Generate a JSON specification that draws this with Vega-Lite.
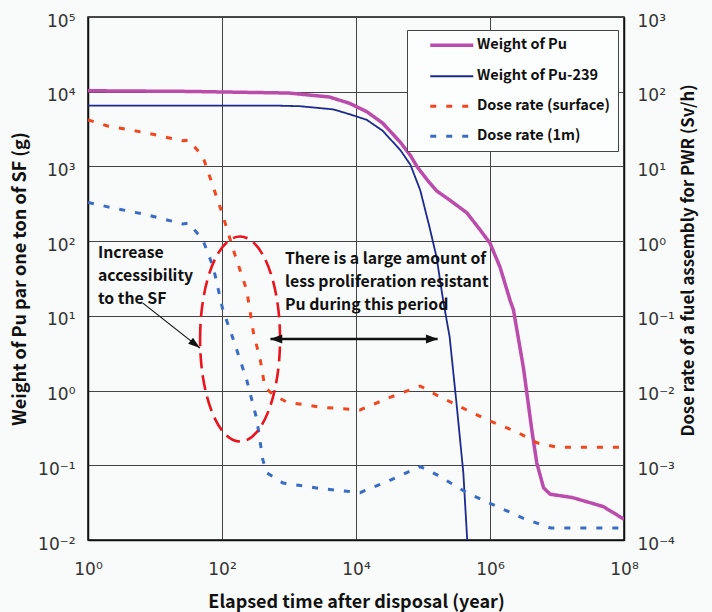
{
  "$schema": "https://vega.github.io/schema/vega-lite/v6.json",
  "width": 536,
  "height": 523,
  "autosize": {"type": "none"},
  "padding": {"left": 88, "top": 17, "right": 88, "bottom": 72},
  "background": "#f9fafa",
  "config": {
    "view": {"stroke": "#111", "strokeWidth": 1.5},
    "font": "Noto Sans CJK JP",
    "axis": {
      "domainColor": "#111", "domainWidth": 1.5,
      "gridColor": "#444", "gridWidth": 1, "gridOpacity": 1,
      "ticks": false, "labelFlush": false, "labelOverlap": false,
      "labelFont": "DejaVu Sans", "labelFontSize": 17, "labelColor": "#333",
      "titleFont": "Noto Sans CJK JP", "titleFontWeight": "bold", "titleFontSize": 18, "titleColor": "#111"
    },
    "legend": {
      "orient": "none", "legendX": 319, "legendY": 13,
      "symbolType": "M-4.3,0H4.3", "symbolSize": 100,
      "labelFont": "Noto Sans CJK JP", "labelFontWeight": "bold", "labelFontSize": 14.5, "labelColor": "#111",
      "strokeColor": "#444", "fillColor": "#fcfdfd",
      "padding": 8, "rowPadding": 15, "symbolOffset": 29.5, "labelOffset": 18
    }
  },
  "datasets": {
    "weight": [
      {"series": "Weight of Pu", "t": 1, "v": 10300},
      {"series": "Weight of Pu", "t": 30, "v": 10100},
      {"series": "Weight of Pu", "t": 1000, "v": 9600},
      {"series": "Weight of Pu", "t": 4000, "v": 8500},
      {"series": "Weight of Pu", "t": 8000, "v": 7000},
      {"series": "Weight of Pu", "t": 14500, "v": 5400},
      {"series": "Weight of Pu", "t": 25000, "v": 3800},
      {"series": "Weight of Pu", "t": 46000, "v": 2100},
      {"series": "Weight of Pu", "t": 65000, "v": 1400},
      {"series": "Weight of Pu", "t": 81000, "v": 1000},
      {"series": "Weight of Pu", "t": 115000, "v": 665},
      {"series": "Weight of Pu", "t": 160000, "v": 470},
      {"series": "Weight of Pu", "t": 250000, "v": 355},
      {"series": "Weight of Pu", "t": 450000, "v": 240},
      {"series": "Weight of Pu", "t": 710000, "v": 142},
      {"series": "Weight of Pu", "t": 1000000, "v": 94},
      {"series": "Weight of Pu", "t": 1410000, "v": 45},
      {"series": "Weight of Pu", "t": 2000000, "v": 16},
      {"series": "Weight of Pu", "t": 2240000, "v": 12},
      {"series": "Weight of Pu", "t": 3160000, "v": 2.0},
      {"series": "Weight of Pu", "t": 4270000, "v": 0.27},
      {"series": "Weight of Pu", "t": 5000000, "v": 0.107},
      {"series": "Weight of Pu", "t": 6300000, "v": 0.05},
      {"series": "Weight of Pu", "t": 7900000, "v": 0.041},
      {"series": "Weight of Pu", "t": 17000000, "v": 0.037},
      {"series": "Weight of Pu", "t": 49000000, "v": 0.028},
      {"series": "Weight of Pu", "t": 100000000, "v": 0.019},
      {"series": "Weight of Pu-239", "t": 1, "v": 6500},
      {"series": "Weight of Pu-239", "t": 700, "v": 6500},
      {"series": "Weight of Pu-239", "t": 1450, "v": 6400},
      {"series": "Weight of Pu-239", "t": 4600, "v": 5800},
      {"series": "Weight of Pu-239", "t": 8000, "v": 5000},
      {"series": "Weight of Pu-239", "t": 14500, "v": 4200},
      {"series": "Weight of Pu-239", "t": 25000, "v": 3000},
      {"series": "Weight of Pu-239", "t": 46000, "v": 1650},
      {"series": "Weight of Pu-239", "t": 65000, "v": 1050},
      {"series": "Weight of Pu-239", "t": 91000, "v": 480},
      {"series": "Weight of Pu-239", "t": 126000, "v": 150},
      {"series": "Weight of Pu-239", "t": 160000, "v": 60},
      {"series": "Weight of Pu-239", "t": 200000, "v": 16},
      {"series": "Weight of Pu-239", "t": 250000, "v": 5.2},
      {"series": "Weight of Pu-239", "t": 316000, "v": 0.68},
      {"series": "Weight of Pu-239", "t": 400000, "v": 0.079},
      {"series": "Weight of Pu-239", "t": 457000, "v": 0.01}
    ],
    "dose": [
      {"series": "Dose rate (surface)", "t": 1, "v": 42},
      {"series": "Dose rate (surface)", "t": 1.9, "v": 35},
      {"series": "Dose rate (surface)", "t": 7.6, "v": 28},
      {"series": "Dose rate (surface)", "t": 26, "v": 22},
      {"series": "Dose rate (surface)", "t": 32, "v": 22.5},
      {"series": "Dose rate (surface)", "t": 52, "v": 13.5},
      {"series": "Dose rate (surface)", "t": 74, "v": 5.3},
      {"series": "Dose rate (surface)", "t": 100, "v": 2.4},
      {"series": "Dose rate (surface)", "t": 148, "v": 0.76},
      {"series": "Dose rate (surface)", "t": 234, "v": 0.22},
      {"series": "Dose rate (surface)", "t": 295, "v": 0.059},
      {"series": "Dose rate (surface)", "t": 372, "v": 0.026},
      {"series": "Dose rate (surface)", "t": 437, "v": 0.011},
      {"series": "Dose rate (surface)", "t": 589, "v": 0.0087},
      {"series": "Dose rate (surface)", "t": 933, "v": 0.007},
      {"series": "Dose rate (surface)", "t": 2900, "v": 0.006},
      {"series": "Dose rate (surface)", "t": 11500, "v": 0.0055},
      {"series": "Dose rate (surface)", "t": 32000, "v": 0.0081},
      {"series": "Dose rate (surface)", "t": 91000, "v": 0.0115},
      {"series": "Dose rate (surface)", "t": 160000, "v": 0.0087},
      {"series": "Dose rate (surface)", "t": 450000, "v": 0.0055},
      {"series": "Dose rate (surface)", "t": 1000000, "v": 0.0039},
      {"series": "Dose rate (surface)", "t": 2500000, "v": 0.0028},
      {"series": "Dose rate (surface)", "t": 5000000, "v": 0.002},
      {"series": "Dose rate (surface)", "t": 10000000, "v": 0.00175},
      {"series": "Dose rate (surface)", "t": 100000000, "v": 0.00175},
      {"series": "Dose rate (1m)", "t": 1, "v": 3.3},
      {"series": "Dose rate (1m)", "t": 1.9, "v": 2.9},
      {"series": "Dose rate (1m)", "t": 7.6, "v": 2.25},
      {"series": "Dose rate (1m)", "t": 26, "v": 1.7},
      {"series": "Dose rate (1m)", "t": 32, "v": 1.75},
      {"series": "Dose rate (1m)", "t": 52, "v": 1.03},
      {"series": "Dose rate (1m)", "t": 74, "v": 0.45},
      {"series": "Dose rate (1m)", "t": 103, "v": 0.12},
      {"series": "Dose rate (1m)", "t": 148, "v": 0.048},
      {"series": "Dose rate (1m)", "t": 234, "v": 0.0138},
      {"series": "Dose rate (1m)", "t": 331, "v": 0.0041},
      {"series": "Dose rate (1m)", "t": 407, "v": 0.00118},
      {"series": "Dose rate (1m)", "t": 468, "v": 0.00079},
      {"series": "Dose rate (1m)", "t": 813, "v": 0.00058},
      {"series": "Dose rate (1m)", "t": 2900, "v": 0.00049},
      {"series": "Dose rate (1m)", "t": 11500, "v": 0.00043},
      {"series": "Dose rate (1m)", "t": 32000, "v": 0.00063},
      {"series": "Dose rate (1m)", "t": 91000, "v": 0.00096},
      {"series": "Dose rate (1m)", "t": 160000, "v": 0.00075},
      {"series": "Dose rate (1m)", "t": 450000, "v": 0.00043},
      {"series": "Dose rate (1m)", "t": 1000000, "v": 0.00031},
      {"series": "Dose rate (1m)", "t": 3160000, "v": 0.000195},
      {"series": "Dose rate (1m)", "t": 8000000, "v": 0.000145},
      {"series": "Dose rate (1m)", "t": 100000000, "v": 0.000145}
    ]
  },
  "layer": [
    {
      "data": {"name": "weight"},
      "mark": {"type": "line", "clip": true},
      "encoding": {
        "x": {"field": "t", "type": "quantitative",
          "scale": {"type": "log", "domain": [1, 100000000], "nice": false},
          "axis": {"values": [1, 100, 10000, 1000000, 100000000], "grid": true,
            "labelPadding": 21, "titlePadding": 16,
            "labelExpr": "'10' + (datum.value < 1 ? '⁻' : '') + substring('⁰¹²³⁴⁵⁶⁷⁸⁹', abs(round(log(datum.value)/LN10)), abs(round(log(datum.value)/LN10)) + 1)"},
          "title": "Elapsed time after disposal (year)"},
        "y": {"field": "v", "type": "quantitative",
          "scale": {"type": "log", "domain": [0.01, 100000], "nice": false},
          "axis": {"orient": "left", "values": [0.01, 0.1, 1, 10, 100, 1000, 10000, 100000], "grid": true,
            "labelPadding": 13, "titlePadding": 8, "labelOffset": 4,
            "labelExpr": "'10' + (datum.value < 1 ? '⁻' : '') + substring('⁰¹²³⁴⁵⁶⁷⁸⁹', abs(round(log(datum.value)/LN10)), abs(round(log(datum.value)/LN10)) + 1)"},
          "title": "Weight of Pu par one ton of SF (g)"},
        "color": {"field": "series", "type": "nominal",
          "scale": {"domain": ["Weight of Pu", "Weight of Pu-239", "Dose rate (surface)", "Dose rate (1m)"],
            "range": ["#bb4cab", "#1c2a8e", "#f2461f", "#3a6cc4"]}, "title": null},
        "strokeDash": {"field": "series", "type": "nominal",
          "scale": {"domain": ["Weight of Pu", "Weight of Pu-239", "Dose rate (surface)", "Dose rate (1m)"],
            "range": [[1, 0], [1, 0], [6, 10], [6, 10]]}, "title": null},
        "strokeWidth": {"field": "series", "type": "nominal",
          "scale": {"type": "ordinal", "domain": ["Weight of Pu", "Weight of Pu-239", "Dose rate (surface)", "Dose rate (1m)"],
            "range": [3.5, 1.8, 3, 3]}, "title": null}
      }
    },
    {
      "data": {"name": "dose"},
      "mark": {"type": "line", "clip": true},
      "encoding": {
        "x": {"field": "t", "type": "quantitative", "scale": {"type": "log", "domain": [1, 100000000], "nice": false}},
        "y": {"field": "v", "type": "quantitative",
          "scale": {"type": "log", "domain": [0.0001, 1000], "nice": false},
          "axis": {"orient": "right", "values": [0.0001, 0.001, 0.01, 0.1, 1, 10, 100, 1000], "grid": false,
            "labelPadding": 13, "titlePadding": 6, "titleAngle": 270, "titleBaseline": "top", "labelOffset": 4,
            "titleFontSize": 16.8, "titleY": 243,
            "labelExpr": "'10' + (datum.value < 1 ? '⁻' : '') + substring('⁰¹²³⁴⁵⁶⁷⁸⁹', abs(round(log(datum.value)/LN10)), abs(round(log(datum.value)/LN10)) + 1)"},
          "title": "Dose rate of a fuel assembly for PWR (Sv/h)"},
        "color": {"field": "series", "type": "nominal",
          "scale": {"domain": ["Weight of Pu", "Weight of Pu-239", "Dose rate (surface)", "Dose rate (1m)"],
            "range": ["#bb4cab", "#1c2a8e", "#f2461f", "#3a6cc4"]}, "title": null},
        "strokeDash": {"field": "series", "type": "nominal",
          "scale": {"domain": ["Weight of Pu", "Weight of Pu-239", "Dose rate (surface)", "Dose rate (1m)"],
            "range": [[1, 0], [1, 0], [6, 10], [6, 10]]}, "title": null},
        "strokeWidth": {"field": "series", "type": "nominal",
          "scale": {"type": "ordinal", "domain": ["Weight of Pu", "Weight of Pu-239", "Dose rate (surface)", "Dose rate (1m)"],
            "range": [3.5, 1.8, 3, 3]}, "title": null}
      }
    },
    {
      "data": {"values": [{"t": 186, "v": 4.9}]},
      "mark": {"type": "point", "shape": "M-0.39,0A0.39,1,0,1,1,0.39,0A0.39,1,0,1,1,-0.39,0Z", "size": 42025,
        "filled": false, "stroke": "#e8141e", "strokeWidth": 2.6, "strokeDash": [15, 7], "opacity": 1},
      "encoding": {
        "x": {"field": "t", "type": "quantitative", "scale": {"type": "log", "domain": [1, 100000000], "nice": false}},
        "y": {"field": "v", "type": "quantitative", "scale": {"type": "log", "domain": [0.01, 100000], "nice": false}, "axis": null}
      }
    },
    {
      "data": {"values": [{"t": 530, "t2": 165000, "v": 4.9}]},
      "mark": {"type": "rule", "color": "#111", "strokeWidth": 2.5},
      "encoding": {
        "x": {"field": "t", "type": "quantitative", "scale": {"type": "log", "domain": [1, 100000000], "nice": false}},
        "x2": {"field": "t2"},
        "y": {"field": "v", "type": "quantitative", "scale": {"type": "log", "domain": [0.01, 100000], "nice": false}, "axis": null}
      }
    },
    {
      "data": {"values": [{"t": 6.6, "t2": 47, "v": 14.8, "v2": 3.7}]},
      "mark": {"type": "rule", "color": "#111", "strokeWidth": 1.2},
      "encoding": {
        "x": {"field": "t", "type": "quantitative", "scale": {"type": "log", "domain": [1, 100000000], "nice": false}},
        "x2": {"field": "t2"},
        "y": {"field": "v", "type": "quantitative", "scale": {"type": "log", "domain": [0.01, 100000], "nice": false}, "axis": null},
        "y2": {"field": "v2"}
      }
    },
    {
      "data": {"values": [{"t": 525, "v": 4.9}]},
      "mark": {"type": "point", "shape": "M0,0L2,-0.75L2,0.75Z", "size": 144, "filled": true, "color": "#111", "opacity": 1},
      "encoding": {
        "x": {"field": "t", "type": "quantitative", "scale": {"type": "log", "domain": [1, 100000000], "nice": false}},
        "y": {"field": "v", "type": "quantitative", "scale": {"type": "log", "domain": [0.01, 100000], "nice": false}, "axis": null}
      }
    },
    {
      "data": {"values": [{"t": 167000, "v": 4.9}]},
      "mark": {"type": "point", "shape": "M0,0L-2,-0.75L-2,0.75Z", "size": 144, "filled": true, "color": "#111", "opacity": 1},
      "encoding": {
        "x": {"field": "t", "type": "quantitative", "scale": {"type": "log", "domain": [1, 100000000], "nice": false}},
        "y": {"field": "v", "type": "quantitative", "scale": {"type": "log", "domain": [0.01, 100000], "nice": false}, "axis": null}
      }
    },
    {
      "data": {"values": [{"t": 47, "v": 3.7}]},
      "mark": {"type": "point", "shape": "M0,0L-2,-0.65L-2,0.65Z", "size": 144, "angle": 38, "filled": true, "color": "#111", "opacity": 1},
      "encoding": {
        "x": {"field": "t", "type": "quantitative", "scale": {"type": "log", "domain": [1, 100000000], "nice": false}},
        "y": {"field": "v", "type": "quantitative", "scale": {"type": "log", "domain": [0.01, 100000], "nice": false}, "axis": null}
      }
    },
    {
      "data": {"values": [
        {"t": 1.41, "v": 86, "label": "Increase\naccessibility\nto the SF"},
        {"t": 871, "v": 71.5, "label": "There is a large amount of\nless proliferation resistant\nPu during this period"}
      ]},
      "mark": {"type": "text", "align": "left", "baseline": "top", "lineBreak": "\n", "lineHeight": 23,
        "fontSize": 15.8, "fontWeight": "bold", "font": "Noto Sans CJK JP", "color": "#111"},
      "encoding": {
        "x": {"field": "t", "type": "quantitative", "scale": {"type": "log", "domain": [1, 100000000], "nice": false}},
        "y": {"field": "v", "type": "quantitative", "scale": {"type": "log", "domain": [0.01, 100000], "nice": false}, "axis": null},
        "text": {"field": "label"}
      }
    }
  ],
  "resolve": {"scale": {"y": "independent"}}
}
